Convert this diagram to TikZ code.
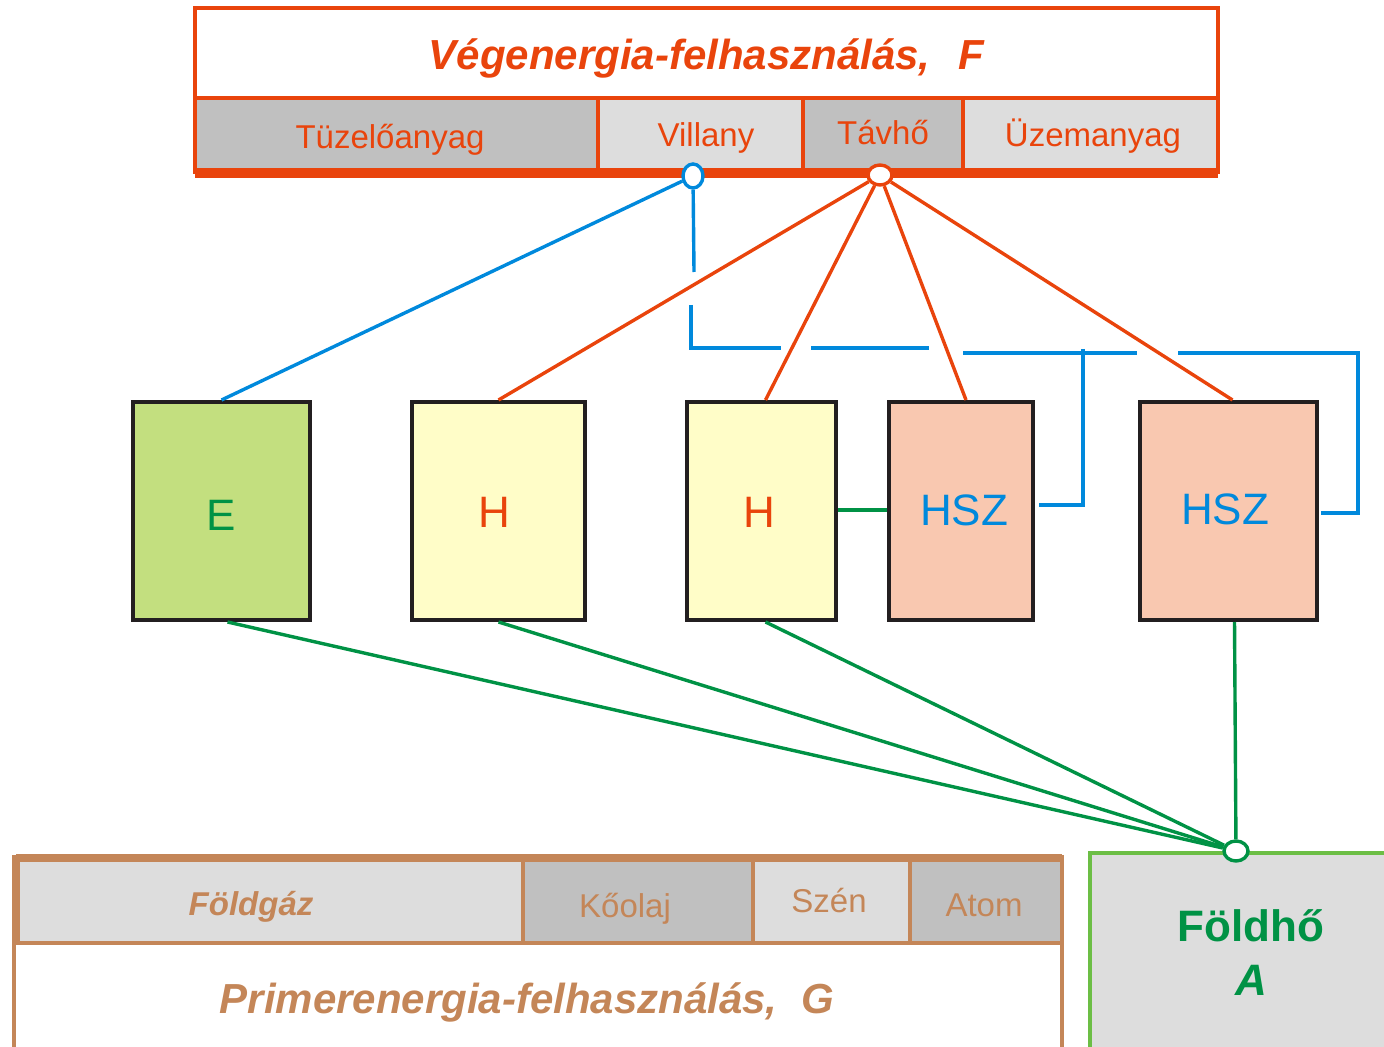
\documentclass[tikz,border=0pt]{standalone}
\usepackage{fontspec}
\setmainfont{Liberation Sans}
\usetikzlibrary{shapes.geometric,calc}
\definecolor{vor}{RGB}{233,68,12}
\definecolor{vblue}{RGB}{0,137,220}
\definecolor{vgreen}{RGB}{0,146,69}
\definecolor{lgreen}{RGB}{108,190,69}
\definecolor{vbrown}{RGB}{196,134,88}
\definecolor{dgray}{RGB}{192,192,192}
\definecolor{lgray}{RGB}{221,221,221}
\definecolor{efill}{RGB}{195,223,127}
\definecolor{hfill}{RGB}{255,253,200}
\definecolor{hszfill}{RGB}{249,200,176}
\definecolor{boxline}{RGB}{35,31,32}
\newcommand{\celltxt}[3]{\hspace*{#1pt}\raisebox{-#2pt}[0pt][0pt]{#3}}
\begin{document}
\begin{tikzpicture}[x=0.5pt,y=-0.5pt,
  topcell/.style={draw=vor, line width=1.7pt, inner sep=0, minimum height=37pt, text=vor, font=\fontsize{16.5}{18}\selectfont},
  botcell/.style={draw=vbrown, line width=1.7pt, inner sep=0, minimum height=41.5pt, text=vbrown, font=\fontsize{16.5}{18}\selectfont},
  unit/.style={draw=boxline, line width=2pt, inner sep=0, minimum height=109pt, font=\fontsize{22}{24}\selectfont},
  ring/.style={ellipse, fill=white, line width=1.7pt, inner sep=0},
  conn/.style={line width=1.7pt},
  bridge/.style={line width=1.7pt, vblue, line join=miter}]
\useasboundingbox (0,0) rectangle (1384,1047);
% top box
\node[topcell, minimum width=511.5pt, minimum height=45pt, font=\fontsize{21}{24}\selectfont\bfseries\itshape] (title) at (706.5,53) {\celltxt{0}{8.5}{Végenergia-felhasználás,\hspace{14pt}F}};
\node[topcell, fill=dgray, minimum width=201.5pt] (tuz) at (396.5,135) {\celltxt{-6.5}{7}{Tüzelőanyag}};
\node[topcell, fill=lgray, minimum width=102.5pt] (vill) at (700.5,135) {\celltxt{5.5}{6}{Villany}};
\node[topcell, fill=dgray, minimum width=80pt] (tavho) at (883,135) {\celltxt{0}{5}{Távhő}};
\node[topcell, fill=lgray, minimum width=127.5pt] (uzem) at (1090.5,135) {\celltxt{2.5}{6}{Üzemanyag}};
\draw[vor, line width=2.2pt] (195,98) -- (1218,98);
\draw[vor, line width=2pt] (195,170) -- (1218,170);
\draw[vor, line width=2pt] (195,176.5) -- (1218,176.5);
% units
\node[unit, fill=efill, minimum width=88.5pt, text=vgreen] (E) at (221.5,511) {\celltxt{0}{9.5}{E}};
\node[unit, fill=hfill, minimum width=86.5pt, text=vor] (H1) at (498.5,511) {\celltxt{-4.5}{8}{H}};
\node[unit, fill=hfill, minimum width=74.5pt, text=vor] (H2) at (761.5,511) {\celltxt{-2.5}{8}{H}};
\node[unit, fill=hszfill, minimum width=72pt, text=vblue] (HSZ1) at (961,511) {\celltxt{3}{7}{HSZ}};
\node[unit, fill=hszfill, minimum width=88.5pt, text=vblue] (HSZ2) at (1228.5,511) {\celltxt{-3.5}{6.5}{HSZ}};
% bottom box
\node[botcell, fill=lgray, minimum width=252.5pt, font=\fontsize{16.5}{18}\selectfont\bfseries\itshape] (foldgaz) at (270.5,901.5) {\celltxt{-19.5}{6.75}{Földgáz}};
\node[botcell, fill=dgray, minimum width=115pt] (koolaj) at (638,901.5) {\celltxt{-13}{7.75}{Kőolaj}};
\node[botcell, fill=lgray, minimum width=78.5pt] (szen) at (831.5,901.5) {\celltxt{-2.5}{5.25}{Szén}};
\node[botcell, fill=dgray, minimum width=76pt] (atom) at (986,901.5) {\celltxt{-2}{7.25}{Atom}};
\draw[vbrown, line width=1.7pt] (14,1047) -- (14,857) -- (1062,857) -- (1062,1047);
\draw[vbrown, line width=2.8pt] (16,857) -- (1062,857);
\draw[vbrown, line width=2.2pt] (16,943) -- (1062,943);
\node[text=vbrown, font=\fontsize{21}{24}\selectfont\bfseries\itshape, inner sep=0] (primer) at (527,997) {\celltxt{0}{8}{Primerenergia-felhasználás,\hspace{12pt}G}};
% Foldho box
\begin{scope}
\clip (0,0) rectangle (1384,1047);
\draw[lgreen, fill=lgray, line width=1.7pt] (1090,1060) -- (1090,853) -- (1400,853) -- (1400,1060) -- cycle;
\end{scope}
\node[text=vgreen, align=center, font=\fontsize{22}{27}\selectfont\bfseries] (foldho) at (1251,953) {Földhő\\\textit{A}};
% rings
\node[ring, draw=vblue, minimum width=10pt, minimum height=12pt] (vc) at (693,176) {};
\node[ring, draw=vor, minimum width=12pt, minimum height=10pt] (tc) at (880,175) {};
\node[ring, draw=vgreen, minimum width=12pt, minimum height=10pt] (fc) at (1236,851) {};
% connectors
\draw[conn, vblue] (vc) -- (E.north);
\draw[conn, vor] (tc) -- (H1.north);
\draw[conn, vor] (tc) -- ($(H2.north)+(4,0)$);
\draw[conn, vor] (tc) -- ($(HSZ1.north)+(5,0)$);
\draw[conn, vor] (tc) -- ($(HSZ2.north)+(4,0)$);
\draw[conn, vgreen] ($(E.south)+(6,0)$) -- (fc);
\draw[conn, vgreen] (H1.south) -- (fc);
\draw[conn, vgreen] ($(H2.south)+(4,0)$) -- (fc);
\draw[conn, vgreen] ($(HSZ2.south)+(6,0)$) -- (fc);
\draw[conn, vgreen] (H2.east |- 0,510) -- (HSZ1.west |- 0,510);
% blue bridged line
\coordinate (b1) at (694,272);
\coordinate (b2) at (691,305);
\coordinate (b3) at (691,348);
\coordinate (b4) at (781,348);
\coordinate (b5) at (811,348);
\coordinate (b6) at (929,348);
\coordinate (b7) at (963,353);
\coordinate (b8) at (1137,353);
\coordinate (b9) at (1083,349);
\coordinate (b10) at (1083,505);
\coordinate (b11) at (1178,353);
\coordinate (b12) at (1358,353);
\coordinate (b13) at (1358,513);
\draw[bridge] (vc) -- (b1);
\draw[bridge] (b2) -- (b3) -- (b4);
\draw[bridge] (b5) -- (b6);
\draw[bridge] (b7) -- (b8);
\draw[bridge] (b9) -- (b10) -- ($(HSZ1.east |- b10)+(4,0)$);
\draw[bridge] (b11) -- (b12) -- (b13) -- ($(HSZ2.east |- b13)+(2,0)$);
\end{tikzpicture}
\end{document}
